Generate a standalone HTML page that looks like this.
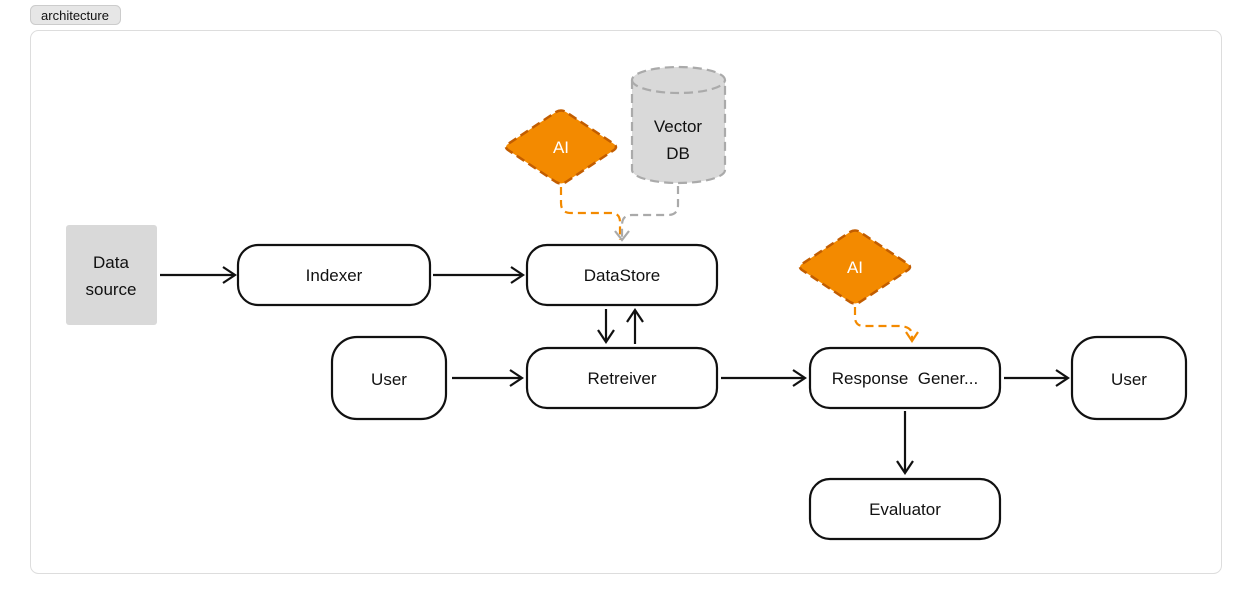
<!DOCTYPE html>
<html><head><style>
body{margin:0;background:#fff;}
svg{display:block;}
text{font-family:"Liberation Sans",sans-serif;}
</style></head><body>
<svg width="1252" height="604" viewBox="0 0 1252 604" xmlns="http://www.w3.org/2000/svg">
<defs>
<marker id="a" markerWidth="16" markerHeight="18" refX="13" refY="9" orient="auto" markerUnits="userSpaceOnUse">
<path d="M1,1 L13,9 L1,17" fill="none" stroke="#111" stroke-width="2.2"/></marker>
<marker id="o" markerWidth="16" markerHeight="16" refX="11" refY="8" orient="auto" markerUnits="userSpaceOnUse">
<path d="M2,2 L11,8 L2,14" fill="none" stroke="#f38a00" stroke-width="2.2"/></marker>
<marker id="g" markerWidth="16" markerHeight="18" refX="11" refY="9" orient="auto" markerUnits="userSpaceOnUse">
<path d="M2,2 L11,9 L2,16" fill="none" stroke="#aaa" stroke-width="2.2"/></marker>
</defs>
<rect x="30.5" y="5.5" width="90" height="19" rx="5" fill="#e6e6e6" stroke="#ccc"/>
<text x="75" y="20" font-size="13" text-anchor="middle" fill="#111">architecture</text>
<rect x="30.5" y="30.5" width="1191" height="543" rx="8" fill="#fff" stroke="#ddd"/>

<rect x="66" y="225" width="91" height="100" rx="3" fill="#d9d9d9"/>
<text x="111" y="268" font-size="17" text-anchor="middle" fill="#111">Data</text>
<text x="111" y="295" font-size="17" text-anchor="middle" fill="#111">source</text>

<g fill="#fff" stroke="#111" stroke-width="2.2">
<rect x="238" y="245" width="192" height="60" rx="20"/>
<rect x="527" y="245" width="190" height="60" rx="20"/>
<rect x="527" y="348" width="190" height="60" rx="20"/>
<rect x="332" y="337" width="114" height="82" rx="25"/>
<rect x="810" y="348" width="190" height="60" rx="20"/>
<rect x="1072" y="337" width="114" height="82" rx="25"/>
<rect x="810" y="479" width="190" height="60" rx="20"/>
</g>
<g font-size="17" text-anchor="middle" fill="#111">
<text x="334" y="281">Indexer</text>
<text x="622" y="281">DataStore</text>
<text x="622" y="384">Retreiver</text>
<text x="389" y="385">User</text>
<text x="905" y="384">Response&#160; Gener...</text>
<text x="1129" y="385">User</text>
<text x="905" y="515">Evaluator</text>
</g>

<g stroke="#111" stroke-width="2.2" fill="none">
<line x1="160" y1="275" x2="235" y2="275" marker-end="url(#a)"/>
<line x1="433" y1="275" x2="523" y2="275" marker-end="url(#a)"/>
<line x1="452" y1="378" x2="522" y2="378" marker-end="url(#a)"/>
<line x1="721" y1="378" x2="805" y2="378" marker-end="url(#a)"/>
<line x1="1004" y1="378" x2="1068" y2="378" marker-end="url(#a)"/>
<line x1="905" y1="411" x2="905" y2="473" marker-end="url(#a)"/>
<line x1="606" y1="309" x2="606" y2="342" marker-end="url(#a)"/>
<line x1="635" y1="344" x2="635" y2="310" marker-end="url(#a)"/>
</g>

<path d="M561,187 L561,203 Q561,213 571,213 L611,213 Q620,213 620,222 L620,240" fill="none" stroke="#f38a00" stroke-width="2.2" stroke-dasharray="8,5"/>
<path d="M678,186 L678,205 Q678,215 668,215 L632,215 Q622,215 622,225 L622,240" fill="none" stroke="#aaa" stroke-width="2.2" stroke-dasharray="8,5" marker-end="url(#g)"/>
<path d="M855,307 L855,317 Q855,326 864,326 L898,326 Q912,326 912,335 L912,341" fill="none" stroke="#f38a00" stroke-width="2.2" stroke-dasharray="8,5" marker-end="url(#o)"/>

<path d="M556,112 Q561,109 566,112 L614,144 Q618,147 614,150 L566,182 Q561,185 556,182 L508,150 Q504,147 508,144 Z" fill="#f38a00" stroke="#c25d00" stroke-width="2.5" stroke-dasharray="9,5" stroke-linejoin="round"/>
<text x="561" y="153" font-size="17" text-anchor="middle" fill="#fff">AI</text>
<path d="M850,232 Q855,229 860,232 L908,264 Q912,267 908,270 L860,302 Q855,305 850,302 L802,270 Q798,267 802,264 Z" fill="#f38a00" stroke="#c25d00" stroke-width="2.5" stroke-dasharray="9,5" stroke-linejoin="round"/>
<text x="855" y="273" font-size="17" text-anchor="middle" fill="#fff">AI</text>

<path d="M632,80 L632,170 A46.5,13 0 0 0 725,170 L725,80 A46.5,13 0 0 0 632,80 Z" fill="#d9d9d9" stroke="#aaa" stroke-width="2.2" stroke-dasharray="9,5"/>
<path d="M632,80 A46.5,13 0 0 0 725,80" fill="none" stroke="#aaa" stroke-width="2.2" stroke-dasharray="9,5"/>
<text x="678" y="132" font-size="17" text-anchor="middle" fill="#111">Vector</text>
<text x="678" y="159" font-size="17" text-anchor="middle" fill="#111">DB</text>
</svg>
</body></html>
